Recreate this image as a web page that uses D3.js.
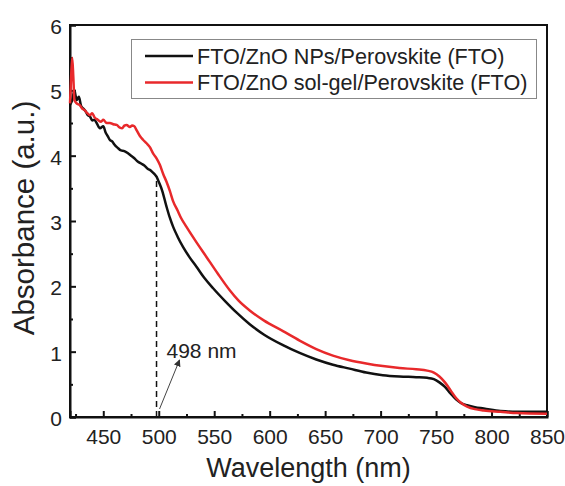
<!DOCTYPE html>
<html>
<head>
<meta charset="utf-8">
<script src="https://cdnjs.cloudflare.com/ajax/libs/d3/7.8.5/d3.min.js"></script>
<style>
  body { margin: 0; background: #fff; }
  svg { font-family: "Liberation Sans", Arial, sans-serif; }
</style>
</head>
<body>
<svg id="chart" width="565" height="486"></svg>
<script>
// series: FTO/ZnO NPs/Perovskite (FTO)
var npsWl  = [420,422,424,425,426,428,430,432,434,436,438,440,442,444,447,450,452,454,456,458,460,463,466,469,472,475,478,481,484,487,490,493,496,498,500,503,507,510,513,517,522,528,534,541,549,560,570,582,595,612,627,642,657,672,687,702,717,732,742,748,753,758,763,768,773,778,785,793,808,823,850];
var npsAbs = [4.78,4.85,5.0,4.92,4.85,4.9,4.76,4.72,4.68,4.62,4.6,4.54,4.55,4.5,4.42,4.45,4.36,4.3,4.24,4.22,4.17,4.12,4.08,4.07,4.04,4.0,3.96,3.91,3.88,3.85,3.8,3.77,3.72,3.68,3.6,3.47,3.22,3.05,2.91,2.76,2.6,2.44,2.3,2.13,1.97,1.77,1.6,1.42,1.26,1.1,0.98,0.88,0.8,0.74,0.68,0.64,0.62,0.61,0.6,0.58,0.53,0.46,0.36,0.27,0.21,0.18,0.15,0.13,0.09,0.08,0.08];

// series: FTO/ZnO sol-gel/Perovskite (FTO)
var solWl  = [420,421,422,423,424,426,429,431,433,435,438,440,442,445,448,450,453,456,459,462,465,467,469,471,474,476,478,480,483,486,489,492,495,498,501,504,507,510,513,517,520,525,533,543,553,564,572,582,595,612,627,642,657,672,687,702,717,732,742,748,753,758,763,768,773,778,785,793,808,823,850];
var solAbs = [4.8,5.2,5.5,5.2,4.85,4.8,4.77,4.72,4.7,4.66,4.62,4.65,4.59,4.55,4.52,4.55,4.5,4.5,4.48,4.47,4.43,4.42,4.46,4.47,4.44,4.46,4.45,4.39,4.3,4.24,4.19,4.13,4.03,3.96,3.86,3.72,3.6,3.46,3.3,3.16,3.05,2.91,2.7,2.45,2.2,1.94,1.78,1.63,1.475,1.315,1.17,1.04,0.94,0.87,0.82,0.78,0.75,0.73,0.71,0.68,0.62,0.53,0.41,0.29,0.21,0.16,0.12,0.1,0.08,0.06,0.05];

var seriesNames = ['FTO/ZnO NPs/Perovskite (FTO)', 'FTO/ZnO sol-gel/Perovskite (FTO)'];
var seriesColors = ['#111111', '#e8292b'];

var xTicks = [450, 500, 550, 600, 650, 700, 750, 800, 850];
var yTicks = [0, 1, 2, 3, 4, 5, 6];
var markWl = 498;
var markAbs = 3.68;
var markLabel = '498 nm';

var svg = d3.select('#chart');
var padL = 70, padR = 547, padT = 25, padB = 417;

var x = d3.scaleLinear().domain([420, 850]).range([padL, padR]);
var y = d3.scaleLinear().domain([0, 6]).range([padB, padT]);

// frame
svg.append('rect').attr('x', padL).attr('y', padT)
  .attr('width', padR - padL).attr('height', padB - padT)
  .attr('fill', 'none').attr('stroke', '#111').attr('stroke-width', 2);

// minor ticks
var xMinor = d3.range(425, 850, 50);
var yMinor = d3.range(0.5, 6, 1);
svg.append('g').attr('transform', 'translate(0,' + padB + ')')
  .call(d3.axisBottom(x).tickValues(xMinor).tickSize(-3).tickFormat(''))
  .call(function(g) { g.select('.domain').remove(); })
  .selectAll('line').attr('stroke', '#111').attr('stroke-width', 2);
svg.append('g').attr('transform', 'translate(' + padL + ',0)')
  .call(d3.axisLeft(y).tickValues(yMinor).tickSize(-3).tickFormat(''))
  .call(function(g) { g.select('.domain').remove(); })
  .selectAll('line').attr('stroke', '#111').attr('stroke-width', 2);

// major axes
var gx = svg.append('g').attr('transform', 'translate(0,' + padB + ')')
  .call(d3.axisBottom(x).tickValues(xTicks).tickSize(-6).tickPadding(12).tickFormat(d3.format('d')));
var gy = svg.append('g').attr('transform', 'translate(' + padL + ',0)')
  .call(d3.axisLeft(y).tickValues(yTicks).tickSize(-6).tickPadding(8).tickFormat(d3.format('d')));
[gx, gy].forEach(function(g) {
  g.select('.domain').attr('stroke', '#111').attr('stroke-width', 2);
  g.selectAll('line').attr('stroke', '#111').attr('stroke-width', 2);
  g.selectAll('text').attr('font-size', 21).attr('fill', '#222')
    .attr('font-family', '"Liberation Sans", Arial, sans-serif');
});
gy.selectAll('text').attr('dy', '0.4em');

// titles
svg.append('text').attr('x', (padL + padR) / 2).attr('y', 477)
  .attr('text-anchor', 'middle').attr('font-size', 27).attr('fill', '#222')
  .text('Wavelength (nm)');
svg.append('text').attr('transform', 'translate(34,218) rotate(-90)')
  .attr('text-anchor', 'middle').attr('font-size', 29.5).attr('fill', '#222')
  .text('Absorbance (a.u.)');

// curves
var line = d3.line().curve(d3.curveMonotoneX)
  .x(function(d) { return x(d[0]); })
  .y(function(d) { return y(d[1]); });
var series = [d3.zip(npsWl, npsAbs), d3.zip(solWl, solAbs)];
series.forEach(function(s, i) {
  svg.append('path').datum(s).attr('d', line)
    .attr('fill', 'none').attr('stroke', seriesColors[i]).attr('stroke-width', 2.5)
    .attr('stroke-linejoin', 'round');
});

// dashed marker + arrow
svg.append('line').attr('x1', x(markWl)).attr('x2', x(markWl))
  .attr('y1', y(0)).attr('y2', y(markAbs))
  .attr('stroke', '#111').attr('stroke-width', 1.5).attr('stroke-dasharray', '6,4');

svg.append('defs').append('marker').attr('id', 'arr')
  .attr('viewBox', '0 0 10 10').attr('refX', 9).attr('refY', 5)
  .attr('markerWidth', 7).attr('markerHeight', 7).attr('orient', 'auto')
  .append('path').attr('d', 'M0,0 L10,5 L0,10 z').attr('fill', '#333');
svg.append('line').attr('x1', x(markWl) + 3).attr('y1', padB - 8)
  .attr('x2', x(markWl) + 23).attr('y2', padB - 57)
  .attr('stroke', '#444').attr('stroke-width', 1).attr('marker-end', 'url(#arr)');
svg.append('text').attr('x', x(markWl) + 10).attr('y', 358)
  .attr('font-size', 21).attr('fill', '#222').text(markLabel);

// legend
var leg = svg.append('g');
leg.append('rect').attr('x', 131.5).attr('y', 39.5).attr('width', 405).attr('height', 59)
  .attr('fill', '#fff').attr('stroke', '#888').attr('stroke-width', 1);
seriesNames.forEach(function(name, i) {
  var ly = 56 + i * 26.5;
  leg.append('line').attr('x1', 145).attr('x2', 193).attr('y1', ly).attr('y2', ly)
    .attr('stroke', seriesColors[i]).attr('stroke-width', 2.5);
  leg.append('text').attr('x', 197).attr('y', ly).attr('dy', '0.36em')
    .attr('font-size', 21.6).attr('fill', '#222').text(name);
});
</script>
</body>
</html>
